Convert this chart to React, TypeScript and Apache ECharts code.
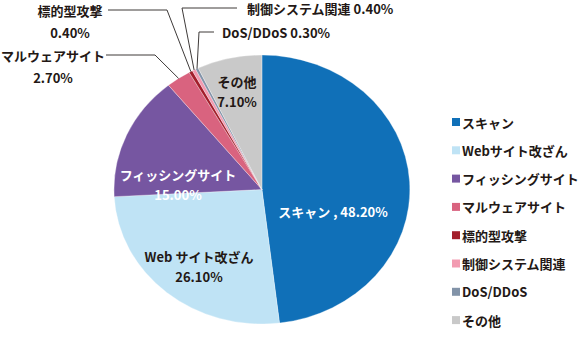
import React, { useEffect, useRef } from "react";
import * as echarts from "echarts";

const categories = ["スキャン", "Webサイト改ざん", "フィッシングサイト", "マルウェアサイト", "標的型攻撃", "制御システム関連", "DoS/DDoS", "その他"];
const values = [48.2, 26.1, 15.0, 2.7, 0.4, 0.4, 0.3, 7.1];
const labelNames = ["スキャン", "Web サイト改ざん", "フィッシングサイト", "マルウェアサイト", "標的型攻撃", "制御システム関連", "DoS/DDoS", "その他"];

const colors = ["#1070b8", "#bfe3f5", "#7656a1", "#d9637f", "#a31e2b", "#f29bb1", "#8293a8", "#c9c9c9"];

const CX = 262;
const CY = 189.5;
const RX = 148;
const RY = 134.5;
const FONT = '"Noto Sans CJK JP", "Noto Sans", sans-serif';

// label layout: kind, text anchor, elbow points
const labelLayout: any[] = [
  { kind: "inside", x: 333, y: 211, color: "#ffffff", oneLine: true },
  { kind: "inside", x: 199, y: 266, color: "#231815" },
  { kind: "inside", x: 178, y: 184, color: "#ffffff" },
  { kind: "outside", x: 53, y: 66, align: "center", elbow: [[106, 55], [155, 55]] },
  { kind: "outside", x: 70, y: 21, align: "center", elbow: [[108, 10], [167, 10]] },
  { kind: "outside", x: 247, y: 8, align: "left", oneLine: true, elbow: [[237, 8], [182, 8]] },
  { kind: "outside", x: 222, y: 32, align: "left", oneLine: true, elbow: [[214, 32], [199, 32]] },
  { kind: "inside", x: 237, y: 91, color: "#231815" },
];

const total = values.reduce((a, b) => a + b, 0);
const starts: number[] = [];
values.reduce((acc, v, i) => {
  starts[i] = acc;
  return acc + v;
}, 0);

const fmt = (v: number) => v.toFixed(2) + "%";

export default function App() {
  const ref = useRef<HTMLDivElement>(null);
  useEffect(() => {
    if (!ref.current) return;
    const chart = echarts.init(ref.current, null, { renderer: "svg" });
    const series = categories.map((name, i) => ({
      type: "custom",
      name,
      coordinateSystem: "none",
      itemStyle: { color: colors[i] },
      data: [[values[i], starts[i]]],
      renderItem: (params: any, api: any) => {
        const v = api.value(0);
        const s = api.value(1);
        const a0 = -Math.PI / 2 + (s / total) * Math.PI * 2;
        const a1 = -Math.PI / 2 + ((s + v) / total) * Math.PI * 2;
        const mid = (a0 + a1) / 2;
        const lay = labelLayout[i];
        const children: any[] = [
          {
            type: "sector",
            shape: { cx: CX, cy: CY, r: RY, r0: 0, startAngle: a0, endAngle: a1, clockwise: true },
            originX: CX,
            originY: CY,
            scaleX: RX / RY,
            style: { fill: colors[i], stroke: "#ffffff", lineWidth: 0.3 },
          },
        ];
        const name = labelNames[i];
        const text = lay.oneLine
          ? (lay.kind === "inside" ? name + " , " + fmt(v) : name + " " + fmt(v))
          : name + "\n" + fmt(v);
        if (lay.kind === "outside") {
          const ex = CX + RX * Math.cos(mid);
          const ey = CY + RY * Math.sin(mid);
          children.push({
            type: "polyline",
            shape: { points: [...lay.elbow, [ex, ey]] },
            style: { stroke: "#3e3a39", lineWidth: 1, fill: null },
            z2: 10,
          });
          children.push({
            type: "text",
            x: lay.x,
            y: lay.y,
            style: {
              text,
              fill: "#231815",
              font: `bold 13px ${FONT}`,
              align: lay.align,
              verticalAlign: "middle",
              lineHeight: 22,
            },
            z2: 10,
          });
        } else {
          children.push({
            type: "text",
            x: lay.x,
            y: lay.y,
            style: {
              text,
              fill: lay.color,
              font: `bold 13px ${FONT}`,
              align: "center",
              verticalAlign: "middle",
              lineHeight: 20,
            },
            z2: 10,
          });
        }
        return { type: "group", children };
      },
    }));
    chart.setOption({
      animation: false,
      backgroundColor: "#ffffff",
      legend: {
        orient: "vertical",
        left: 452,
        top: 114,
        padding: 0,
        icon: "rect",
        itemWidth: 8,
        itemHeight: 8,
        itemGap: 12.3,
        data: categories,
        textStyle: {
          fontFamily: FONT,
          fontWeight: "bold",
          fontSize: 13,
          color: "#231815",
          padding: [0, 0, 0, -3],
          lineHeight: 16,
        },
        selectedMode: false,
      },
      series,
    });
    return () => chart.dispose();
  }, []);
  return <div ref={ref} style={{ position: "fixed", left: 0, top: 0, width: 585, height: 352 }} />;
}
